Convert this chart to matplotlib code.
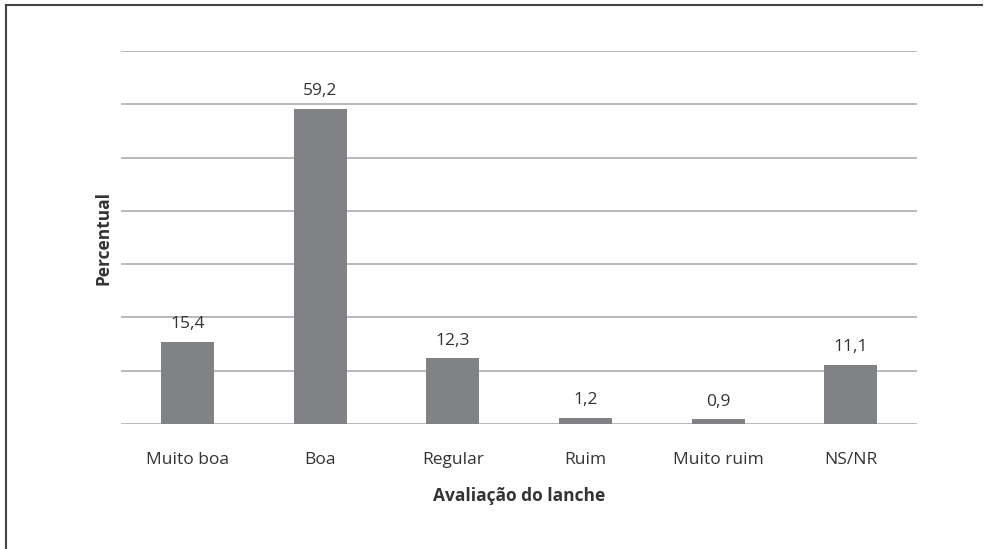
import matplotlib.pyplot as plt
from matplotlib.lines import Line2D

plt.rcParams["font.family"] = ["Open Sans", "DejaVu Sans"]

categories = ["Muito boa", "Boa", "Regular", "Ruim", "Muito ruim", "NS/NR"]
percentual = [15.4, 59.2, 12.3, 1.2, 0.9, 11.1]

BAR_COLOR = "#808285"
GRID_COLOR = "#b3b3b3"
TEXT_COLOR = "#333333"
FS = 12.5

fig = plt.figure(figsize=(9.84, 5.49), dpi=100)
ax = fig.add_axes([0.123, 0.2277, 0.809, 0.679])

x = range(len(categories))
bars = ax.bar(x, percentual, width=0.4, color=BAR_COLOR, zorder=3)
for rect, val in zip(bars, percentual):
    ax.text(rect.get_x() + rect.get_width() / 2, val + 1.8,
            f"{val:.1f}".replace(".", ","), ha="center", va="bottom",
            fontsize=FS, color=TEXT_COLOR)

ax.set_xlim(-0.5, len(categories) - 0.5)
ax.set_ylim(0, 70)
ax.set_yticks(range(0, 71, 10))
ax.yaxis.grid(True, color=GRID_COLOR, linewidth=1.3, zorder=0)
ax.tick_params(axis="y", left=False, labelleft=False)
ax.tick_params(axis="x", bottom=False, pad=17, labelsize=FS, labelcolor=TEXT_COLOR)
ax.set_xticks(list(x), categories)
for side in ["top", "right", "left", "bottom"]:
    ax.spines[side].set_visible(False)

ax.set_xlabel("Avaliação do lanche", fontsize=FS, fontweight="bold",
              color=TEXT_COLOR, labelpad=13)
ax.set_ylabel("Percentual", fontsize=FS, fontweight="bold",
              color=TEXT_COLOR, labelpad=6)

# frame lines along the top and left edge of the figure
fig.add_artist(Line2D([0.006, 0.998], [0.990, 0.990], color="#444444",
                      linewidth=1.5, transform=fig.transFigure))
fig.add_artist(Line2D([0.006, 0.006], [0.0, 0.990], color="#444444",
                      linewidth=1.5, transform=fig.transFigure))

fig.savefig("out.png", dpi=100)
